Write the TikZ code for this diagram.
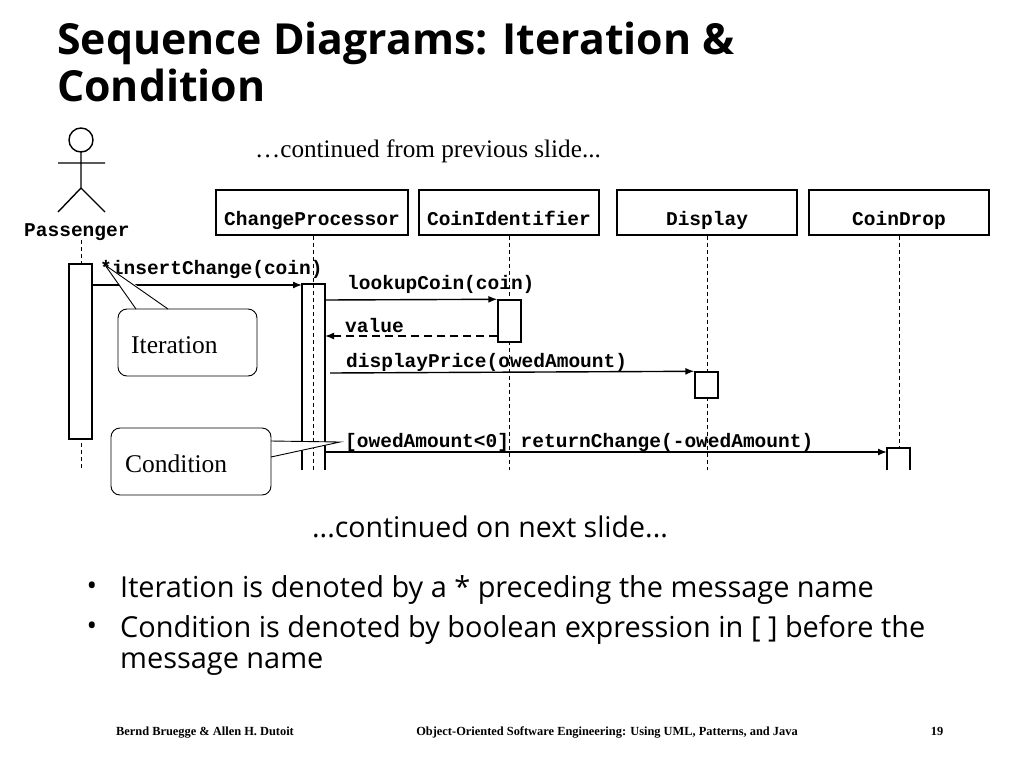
\documentclass[tikz,border=0pt]{standalone}
\usepackage{fontspec}
\setmainfont{Liberation Serif}
\newfontfamily\osans{Open Sans}
\newfontfamily\mono{Liberation Mono}
\usetikzlibrary{arrows.meta}
\begin{document}
\begin{tikzpicture}[x=1pt,y=-1pt,
  obj/.style={draw,line width=1.6pt,minimum height=45pt,inner sep=0pt,text height=25pt,text depth=0pt,font=\mono\bfseries\fontsize{19.5}{19.5}\selectfont},
  act/.style={draw,line width=1.4pt,fill=white},
  life/.style={dash pattern=on 4pt off 3pt,line width=0.8pt},
  msg/.style={line width=1.4pt,-{Latex[length=9pt,width=7pt]}},
  lbl/.style={anchor=base west,inner sep=0pt,font=\mono\bfseries\fontsize{19.5}{19.5}\selectfont},
  callout/.style={draw,line width=0.9pt,fill=white,rounded corners=9pt},
  ctext/.style={anchor=base west,inner sep=0pt,font=\fontsize{25.5}{25.5}\selectfont},
  bul/.style={anchor=base west,inner sep=0pt,font=\osans\fontsize{28.9}{28.9}\selectfont},
  foot/.style={anchor=base,inner sep=0pt,font=\bfseries\fontsize{12.4}{12.4}\selectfont}]
\useasboundingbox (0,0) rectangle (1024,768);
\node[anchor=base west,inner sep=0pt,font=\osans\bfseries\fontsize{42.8}{42.8}\selectfont] (t1) at (57,55) {Sequence Diagrams: Iteration \&};
\node[anchor=base west,inner sep=0pt,font=\osans\bfseries\fontsize{42.8}{42.8}\selectfont] (t2) at (57,101) {Condition};
\node[anchor=base,inner sep=0pt,font=\fontsize{25.2}{25.2}\selectfont] (prev) at (428,157) {\ldots continued from previous slide...};
% actor
\draw[line width=1.4pt] (81,140) circle (12);
\draw[line width=1.4pt] (81,152) -- (81,188) (58,163) -- (105,163) (58,212) -- (81,188) -- (105,212);
\node[lbl] (pass) at (24,236) {Passenger};
% objects
\node[obj,minimum width=192pt] (cp) at (312,212.5) {ChangeProcessor};
\node[obj,minimum width=180pt] (ci) at (509,212.5) {CoinIdentifier};
\node[obj,minimum width=180pt] (dp) at (707,212.5) {Display};
\node[obj,minimum width=180pt] (cd) at (899,212.5) {CoinDrop};
% lifelines
\coordinate (pe) at (81,468); \coordinate (cpe) at (313,470);
\coordinate (cie) at (509,470); \coordinate (dpe) at (707,470); \coordinate (cde) at (899,448);
\draw[life] (81,240) -- (pe);
\draw[life] (cp.south -| 313,0) -- (cpe);
\draw[life] (ci.south) -- (cie);
\draw[life] (dp.south) -- (dpe);
\draw[life] (cd.south) -- (cde);
% activations
\node[act,minimum width=23pt,minimum height=175pt,inner sep=0pt] (pa) at (80.5,351.5) {};
\fill[white] (302,284) rectangle (325,470);
\draw[line width=1.4pt] (302,470) -- (302,284) -- (325,284) -- (325,470);
\coordinate (cpa) at (313.5,284);
\draw[life] (313,284) -- (313,470);
\node[act,minimum width=23pt,minimum height=42pt,inner sep=0pt] (cia) at (509.5,321) {};
\node[act,minimum width=23pt,minimum height=26pt,inner sep=0pt] (dpa) at (706.5,385) {};
\draw[line width=1.4pt] (887,470) -- (887,448) -- (910,448) -- (910,470);
\coordinate (cda) at (887,452);
% messages
\draw[msg] (pa.east |- 0,285) -- (302,285);
\node[lbl] (m1) at (100,274) {*insertChange(coin)};
\draw[msg] (325,300) -- (cia.north west);
\node[lbl] (m2) at (347,289) {lookupCoin(coin)};
\draw[msg,dash pattern=on 8pt off 5pt] (cia.west |- 0,336) -- (325,336);
\node[lbl] (m3) at (345,332) {value};
\draw[msg] (330,373) -- (dpa.north west);
\node[lbl] (m4) at (346,367) {displayPrice(owedAmount)};
\draw[msg] (325,452) -- (cda);
\node[lbl] (m5) at (345,447) {[owedAmount<0] returnChange(-owedAmount)};
% callouts
\draw[callout] (118,309) rectangle (257,376);
\fill[white] (136,307) -- (105,265) -- (170,307) -- cycle;
\draw[line width=0.9pt] (136,309) -- (105,265) -- (168,309);
\node[ctext] (it) at (131,353) {Iteration};
\draw[callout] (111,428) rectangle (271,495);
\fill[white] (273,441) -- (340,442) -- (273,457) -- cycle;
\draw[line width=0.9pt] (271,441) -- (340,442) -- (271,457);
\node[ctext] (co) at (125,472) {Condition};
% bottom text
\node[anchor=base,inner sep=0pt,font=\osans\fontsize{28.5}{28.5}\selectfont] (next) at (490,537) {...continued on next slide...};
\node[anchor=base,inner sep=0pt,font=\osans\fontsize{28}{28}\selectfont] (b1d) at (92,595) {•};
\node[bul] (b1) at (120,597) {Iteration is denoted by a * preceding the message name};
\node[anchor=base,inner sep=0pt,font=\osans\fontsize{28}{28}\selectfont] (b2d) at (92,635) {•};
\node[bul] (b2) at (120,637) {Condition is denoted by boolean expression in [ ] before the};
\node[bul] (b3) at (120,668) {message name};
\node[foot] (f1) at (205,735) {Bernd Bruegge \& Allen H. Dutoit};
\node[foot] (f2) at (607,735) {Object-Oriented Software Engineering: Using UML, Patterns, and Java};
\node[foot] (f3) at (937,735) {19};
\end{tikzpicture}
\end{document}
